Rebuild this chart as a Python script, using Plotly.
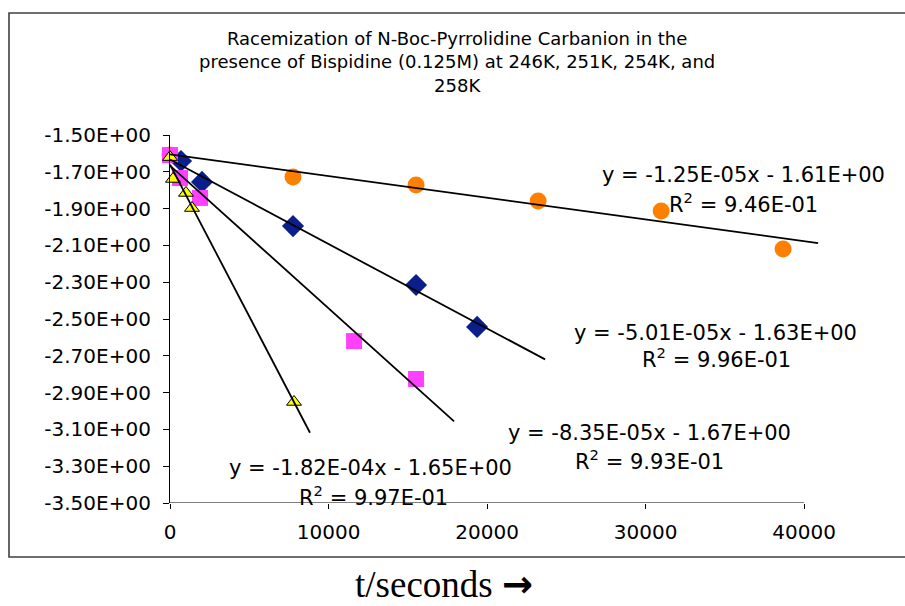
import plotly.graph_objects as go
import numpy as np

# ---------------- data ----------------
t_246 = [0, 7760, 15520, 23220, 30980, 38670]
y_246 = [-1.609, -1.728, -1.772, -1.859, -1.913, -2.120]

t_251 = [694, 2019, 7760, 15520, 19370]
y_251 = [-1.641, -1.755, -1.995, -2.315, -2.543]

t_254 = [0, 631, 1893, 11610, 15520]
y_254 = [-1.609, -1.734, -1.842, -2.620, -2.826]

t_258 = [0, 189, 1009, 1388, 7823]
y_258 = [-1.620, -1.739, -1.815, -1.897, -2.951]

# extent of each trendline (x where Excel's trendline ends)
trend_end_246 = 40880
trend_end_251 = 23660
trend_end_254 = 17920
trend_end_258 = 8830

eq_246 = ["y = -1.25E-05x - 1.61E+00", "R<sup>2</sup> = 9.46E-01"]
eq_251 = ["y = -5.01E-05x - 1.63E+00", "R<sup>2</sup> = 9.96E-01"]
eq_254 = ["y = -8.35E-05x - 1.67E+00", "R<sup>2</sup> = 9.93E-01"]
eq_258 = ["y = -1.82E-04x - 1.65E+00", "R<sup>2</sup> = 9.97E-01"]

y_tick_vals = [-1.5, -1.7, -1.9, -2.1, -2.3, -2.5, -2.7, -2.9, -3.1, -3.3, -3.5]
y_tick_text = ["-1.50E+00", "-1.70E+00", "-1.90E+00", "-2.10E+00", "-2.30E+00",
               "-2.50E+00", "-2.70E+00", "-2.90E+00", "-3.10E+00", "-3.30E+00",
               "-3.50E+00"]
x_tick_vals = [0, 10000, 20000, 30000, 40000]
x_tick_text = ["0", "10000", "20000", "30000", "40000"]

title_text = ("Racemization of N-Boc-Pyrrolidine Carbanion in the<br>"
              "presence of Bispidine (0.125M) at 246K, 251K, 254K, and<br>258K")
x_title_text = ('t/seconds <span style="font-family:DejaVu Sans;font-weight:bold">'
                '→</span>')

# ---------------- figure ----------------
W, H = 905, 606
L, R, T, B = 170, 85, 135, 103
PW, PH = W - L - R, H - T - B


def paper(xp, yp):
    return (xp - L) / PW, (H - B - yp) / PH


fig = go.Figure()

series = [
    (t_246, y_246, dict(symbol="circle", size=17, color="#FF8000")),
    (t_251, y_251, dict(symbol="diamond", size=17, color="#0A1E8C")),
    (t_254, y_254, dict(symbol="square", size=16, color="#FF40FF")),
    (t_258, y_258, dict(symbol="triangle-up", size=13, color="#FFFF00",
                        line=dict(color="#000000", width=1))),
]
for tx, ty, mk in series:
    fig.add_trace(go.Scatter(x=tx, y=ty, mode="markers", marker=mk,
                             cliponaxis=False, showlegend=False, hoverinfo="x+y"))

for tx, ty, xe in [(t_246, y_246, trend_end_246), (t_251, y_251, trend_end_251),
                   (t_254, y_254, trend_end_254), (t_258, y_258, trend_end_258)]:
    k, b = np.polyfit(tx, ty, 1)
    xs = np.array([0, xe])
    fig.add_trace(go.Scatter(x=xs, y=k * xs + b, mode="lines",
                             line=dict(color="black", width=1.8),
                             showlegend=False, hoverinfo="skip"))

font_main = "DejaVu Sans, Verdana, sans-serif"
annots = []


def add_text(txt, xp, yp, size, family=font_main, anchor="center"):
    xpp, ypp = paper(xp, yp)
    annots.append(dict(text=txt, x=xpp, y=ypp, xref="paper", yref="paper",
                       xanchor=anchor, yanchor="middle", showarrow=False,
                       font=dict(size=size, family=family, color="black")))


add_text(title_text, 457, 62, 18)
add_text(eq_246[0], 743, 175, 21)
add_text(eq_246[1], 743, 203, 21)
add_text(eq_251[0], 715, 333, 21)
add_text(eq_251[1], 716, 358, 21)
add_text(eq_254[0], 649, 433, 21)
add_text(eq_254[1], 649, 460, 21)
add_text(eq_258[0], 370, 468, 21)
add_text(eq_258[1], 373, 496, 21)
add_text(x_title_text, 444, 584, 37, family="Liberation Serif, Times New Roman, serif")

x0p, y0p = paper(9, 13)
x1p, y1p = paper(906, 557)
shapes = [
    dict(type="rect", xref="paper", yref="paper", x0=x0p, y0=y1p, x1=x1p, y1=y0p,
         line=dict(color="#404040", width=1.6), fillcolor="rgba(0,0,0,0)", layer="below"),
    dict(type="line", xref="x", yref="y", x0=0, x1=40000, y0=-3.5, y1=-3.5,
         line=dict(color="black", width=1.2)),
]

fig.update_layout(
    width=W, height=H,
    margin=dict(l=L, r=R, t=T, b=B, pad=0),
    paper_bgcolor="white", plot_bgcolor="white",
    font=dict(family=font_main, color="black"),
    annotations=annots, shapes=shapes,
    xaxis=dict(range=[0, 41000], tickvals=x_tick_vals, ticktext=x_tick_text,
               showgrid=False, zeroline=False, showline=False,
               ticks="outside", ticklen=5, tickcolor="black", tickwidth=1,
               tickfont=dict(size=20, family=font_main, color="black"),
               ticklabelstandoff=6),
    yaxis=dict(range=[-3.5, -1.5], tickvals=y_tick_vals, ticktext=y_tick_text,
               showgrid=False, zeroline=False, showline=True, linecolor="black",
               linewidth=1.2, ticks="outside", ticklen=6, tickcolor="black",
               tickwidth=1, tickfont=dict(size=20, family=font_main, color="black"),
               ticklabelstandoff=8),
)

fig.write_html("out.html")
